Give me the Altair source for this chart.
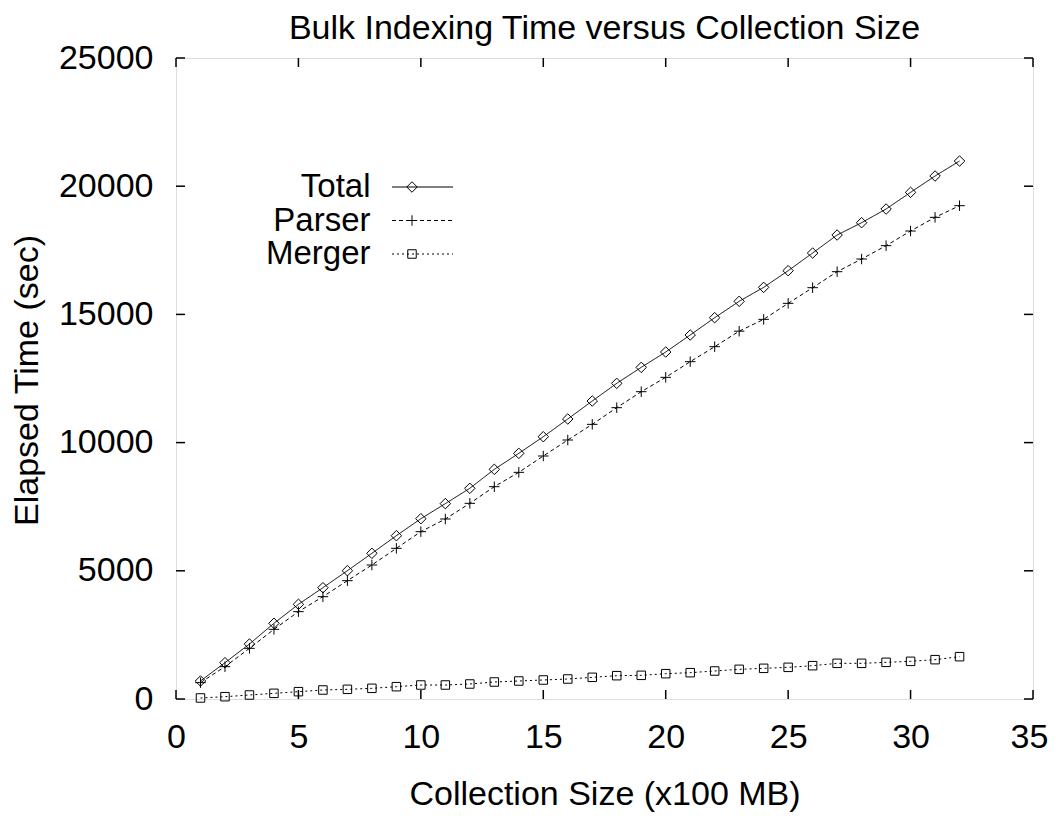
import altair as alt
import pandas as pd

F = "Liberation Sans"
FS = 34

sizes = list(range(1, 33))
total = [702, 1416, 2145, 2952, 3693, 4341, 5004, 5682, 6369, 7032,
         7620, 8217, 8957, 9581, 10230, 10920, 11622, 12311, 12935, 13533,
         14196, 14871, 15510, 16055, 16705, 17394, 18096, 18576, 19110, 19760,
         20397, 20982]
parser = [637, 1261, 1976, 2717, 3406, 3991, 4615, 5226, 5876, 6526,
          7020, 7632, 8281, 8840, 9477, 10101, 10712, 11362, 11986, 12545,
          13156, 13741, 14345, 14807, 15431, 16042, 16666, 17160, 17680, 18252,
          18785, 19240]
merger = [40, 90, 156, 221, 286, 351, 377, 416, 481, 546,
          546, 585, 663, 702, 741, 780, 845, 910, 923, 988,
          1027, 1092, 1157, 1196, 1235, 1300, 1391, 1391, 1430, 1469,
          1534, 1651]

series_names = ["Total", "Parser", "Merger"]
x_ticks = [0, 5, 10, 15, 20, 25, 30, 35]
y_ticks = [0, 5000, 10000, 15000, 20000, 25000]
title_text = "Bulk Indexing Time versus Collection Size"

W, H = 857, 641

xs = alt.Scale(domain=[0, 35], nice=False, zero=False)
ys = alt.Scale(domain=[0, 25000], nice=False)

xaxis = alt.Axis(values=x_ticks, ticks=False, tickSize=0, domain=False, grid=False,
                 labelFontSize=FS, labelFont=F, labelColor="black", labelPadding=21,
                 labelFlush=False, labelOverlap=False, format="d",
                 labelOffset={"condition": {"test": "datum.value == 35", "value": -4}, "value": 0},
                 title="Collection Size (x100 MB)", titleFontSize=FS, titleFont=F,
                 titleFontWeight="normal", titleColor="black",
                 titleX=W / 2, titleY=105, titleAlign="center", titleBaseline="alphabetic")
yaxis = alt.Axis(values=y_ticks, ticks=False, tickSize=0, domain=False, grid=False,
                 labelFontSize=FS, labelFont=F, labelColor="black", labelPadding=23,
                 labelFlush=False, labelOverlap=False, format="d",
                 title="Elapsed Time (sec)", titleFontSize=FS, titleFont=F,
                 titleFontWeight="normal", titleColor="black", titleAngle=270,
                 titleX=-138.5, titleY=322, titleAlign="center", titleBaseline="alphabetic")


def X(field="x"):
    return alt.X(f"{field}:Q", scale=xs, axis=xaxis)


def Y(field="y"):
    return alt.Y(f"{field}:Q", scale=ys, axis=yaxis)


plus_path = "M-1,0L1,0M0,-1L0,1"
styles = {
    "Total": dict(dash=[1, 0], shape="diamond", size=110),
    "Parser": dict(dash=[4, 3], shape=plus_path, size=110),
    "Merger": dict(dash=[2, 3], shape="square", size=72),
}
values = {"Total": total, "Parser": parser, "Merger": merger}

layers = []
for name in series_names:
    df = pd.DataFrame({"x": sizes, "y": values[name]})
    st = styles[name]
    base = alt.Chart(df)
    layers.append(base.mark_line(color="black", strokeWidth=1, strokeDash=st["dash"]).encode(x=X(), y=Y()))
    layers.append(base.mark_point(shape=st["shape"], size=st["size"], filled=False,
                                  color="black", strokeWidth=1, opacity=1).encode(x=X(), y=Y()))

# inward mirrored ticks
xt = pd.DataFrame({"x": x_ticks})
yt = pd.DataFrame({"y": y_ticks})
tl = 9
layers.append(alt.Chart(xt).mark_rule(color="black", strokeWidth=1.5).encode(
    x=X(), y=alt.value(H), y2=alt.value(H - tl)))
layers.append(alt.Chart(xt).mark_rule(color="black", strokeWidth=1.5).encode(
    x=X(), y=alt.value(0), y2=alt.value(tl)))
layers.append(alt.Chart(yt).mark_rule(color="black", strokeWidth=1.5).encode(
    y=Y(), x=alt.value(0), x2=alt.value(tl)))
layers.append(alt.Chart(yt).mark_rule(color="black", strokeWidth=1.5).encode(
    y=Y(), x=alt.value(W), x2=alt.value(W - tl)))

# legend (label left, sample right, gnuplot style)
for i, name in enumerate(series_names):
    st = styles[name]
    py = 129 + i * 33.5
    d = pd.DataFrame({"s": [name]})
    c = alt.Chart(d)
    layers.append(c.mark_text(align="right", baseline="middle", fontSize=33, font=F,
                              color="black").encode(text="s:N", x=alt.value(194.5), y=alt.value(py)))
    layers.append(c.mark_rule(color="black", strokeWidth=1, strokeDash=st["dash"]).encode(
        x=alt.value(216), x2=alt.value(277), y=alt.value(py)))
    layers.append(c.mark_point(shape=st["shape"], size=st["size"], filled=False, color="black",
                               strokeWidth=1, opacity=1).encode(x=alt.value(236), y=alt.value(py)))

# chart title as text above the plot
td = pd.DataFrame({"t": [title_text]})
layers.append(alt.Chart(td).mark_text(align="center", baseline="alphabetic", fontSize=FS, font=F,
                                      color="black").encode(text="t:N", x=alt.value(W / 2), y=alt.value(-19)))

chart = alt.layer(*layers).properties(
    width=W, height=H,
    autosize=alt.AutoSizeParams(type="none"),
    padding={"left": 168, "top": 50, "right": 15, "bottom": 113},
).configure_view(stroke="black", strokeWidth=2).configure(background="white")

chart.save("out.html", embed_options={"renderer": "svg", "actions": False})
